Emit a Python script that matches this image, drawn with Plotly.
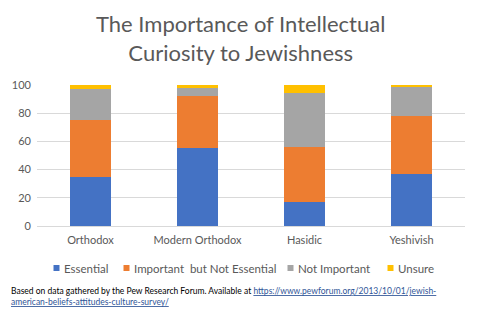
import plotly.graph_objects as go

categories = ["Orthodox", "Modern Orthodox", "Hasidic", "Yeshivish"]
essential = [35, 55, 17, 37]
important = [40, 37, 39, 41]
not_important = [22, 6, 38, 21]
unsure = [3, 2, 6, 1]
series_names = ["Essential", "Important  but Not Essential", "Not Important", "Unsure"]
colors = ["#4472C4", "#ED7D31", "#A5A5A5", "#FFC000"]
y_ticks = [0, 20, 40, 60, 80, 100]

fig = go.Figure()
for name, vals, col in zip(series_names, [essential, important, not_important, unsure], colors):
    fig.add_trace(go.Bar(x=categories, y=vals, name=name, marker=dict(color=col, line=dict(width=0)),
                         width=0.39, showlegend=False))

font_family = "Lato, 'Open Sans', sans-serif"
ML, MT = 37, 85
PH = 141.0
PW = 428.0

def px_x(p):
    return (p - ML) / PW

def px_y(p):
    return 1 - (p - MT) / PH

fig.update_layout(
    barmode="stack",
    width=480, height=321,
    margin=dict(l=ML, r=15, t=MT, b=95, autoexpand=False),
    paper_bgcolor="white", plot_bgcolor="white",
    font=dict(family=font_family, color="#595959", size=11),
    yaxis=dict(range=[0, 100], tickvals=y_ticks, showgrid=True, gridcolor="#D9D9D9", gridwidth=1,
               zeroline=False, showline=False, ticks="", automargin=False, ticklabelstandoff=5,
               tickfont=dict(size=11, color="#595959")),
    xaxis=dict(showline=True, linecolor="#D9D9D9", ticks="", automargin=False, ticklabelstandoff=4,
               tickfont=dict(size=11, color="#595959")),
    showlegend=False,
)

# legend (manual, one row)
legend_sq_x = [53.5, 123.5, 287.5, 387.5]
legend_y = 268
for name, col, sx in zip(series_names, colors, legend_sq_x):
    fig.add_shape(type="rect", xref="paper", yref="paper",
                  x0=px_x(sx), x1=px_x(sx + 6), y0=px_y(legend_y - 3), y1=px_y(legend_y + 3),
                  fillcolor=col, line=dict(width=0))
    fig.add_annotation(text=name, xref="paper", yref="paper", x=px_x(sx + 8.5), y=px_y(legend_y),
                       xanchor="left", yanchor="middle", showarrow=False,
                       font=dict(size=11.5, color="#595959", family=font_family))

fig.add_annotation(
    text="The Importance of Intellectual<br>Curiosity to Jewishness",
    xref="paper", yref="paper", x=px_x(240), y=px_y(38), xanchor="center", yanchor="middle",
    showarrow=False, align="center", font=dict(size=22, color="#595959", family=font_family),
)

fig.add_annotation(
    text="Based on data gathered by the Pew Research Forum. Available at "
         "<span style='color:#2F5597'><u>https://www.pewforum.org/2013/10/01/jewish-</u></span><br>"
         "<span style='color:#2F5597'><u>american-beliefs-attitudes-culture-survey/</u></span>",
    xref="paper", yref="paper", x=px_x(9), y=px_y(284), xanchor="left", yanchor="top",
    showarrow=False, align="left", font=dict(size=8.5, color="#000000", family=font_family),
)

fig.write_html("out.html")
